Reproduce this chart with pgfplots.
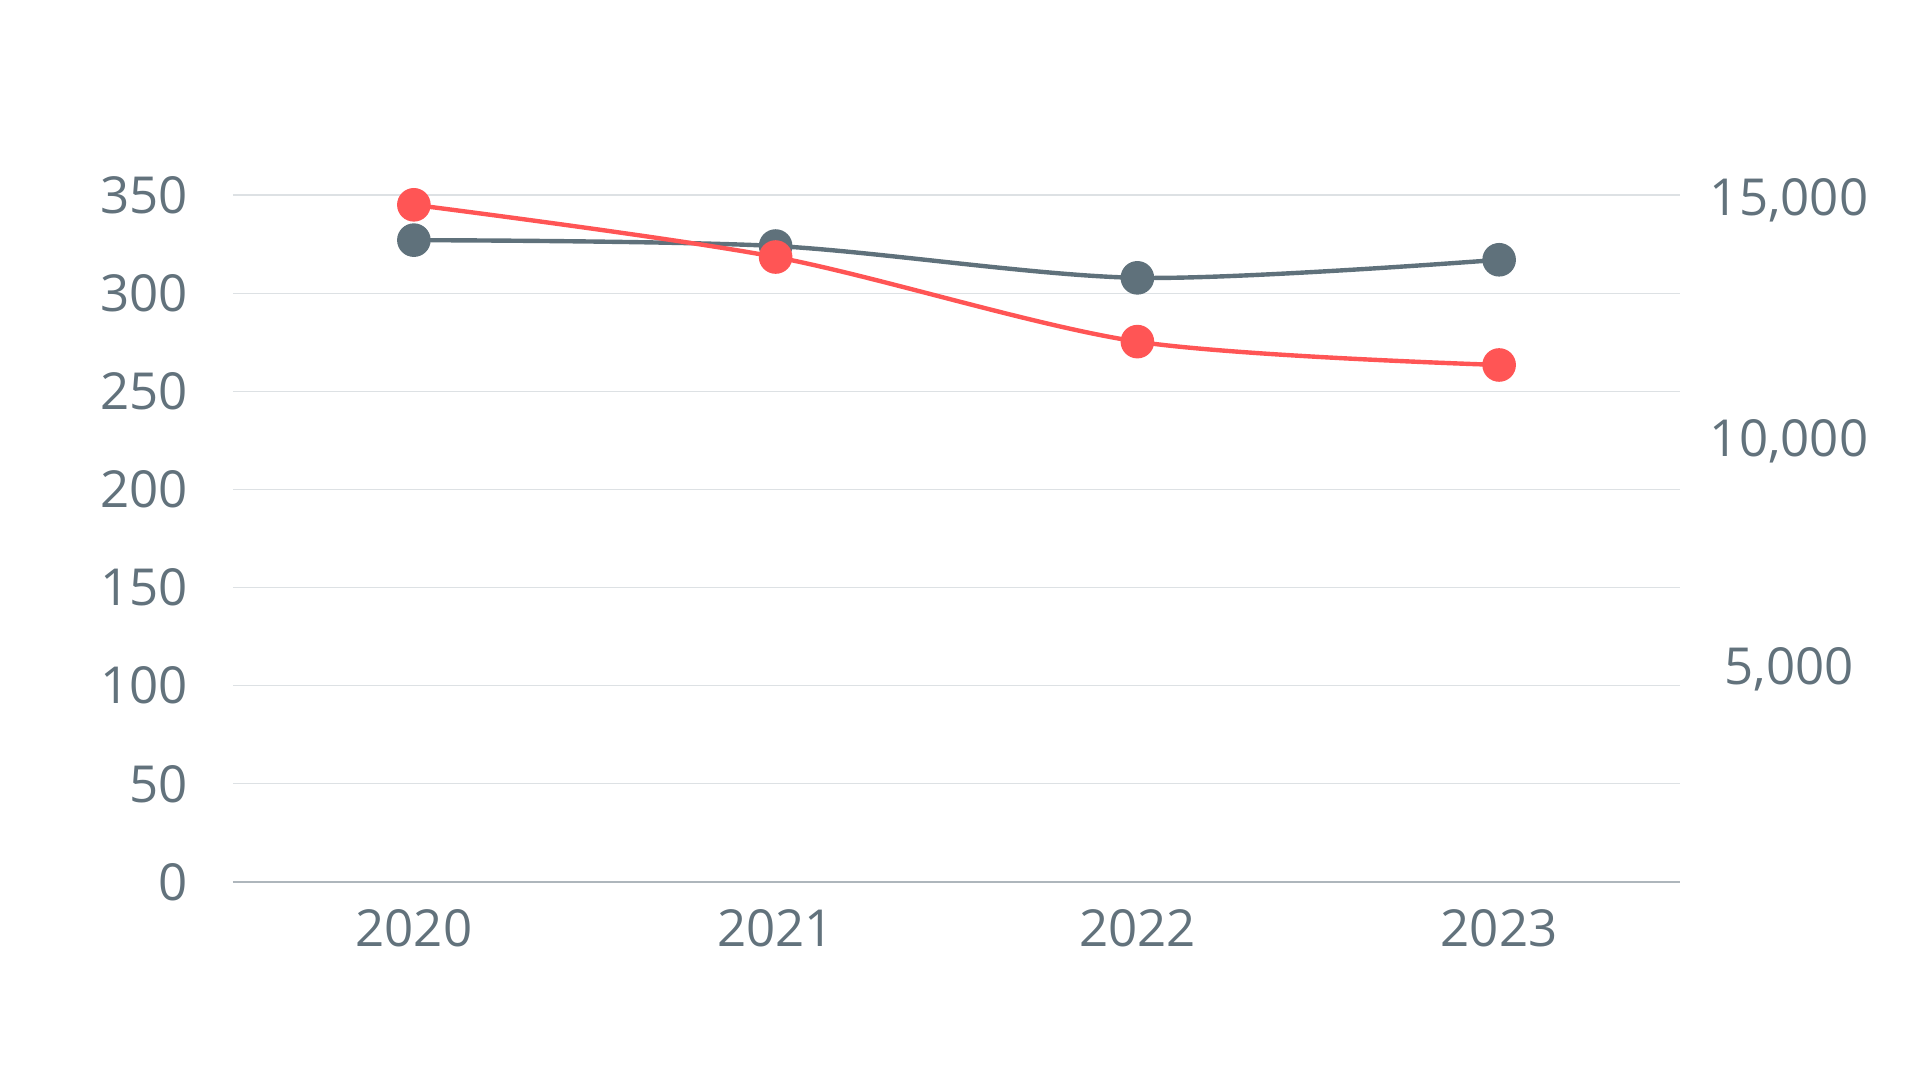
\documentclass[border=0pt]{standalone}
\usepackage{pgfplots}
\pgfplotsset{compat=1.18}
\usepackage{fontspec}
\setmainfont{Open Sans}
\definecolor{gr}{HTML}{5F717B}
\definecolor{rd}{HTML}{FF5555}
\definecolor{gridc}{HTML}{DDE1E4}
\definecolor{basec}{HTML}{AEB6BC}
\definecolor{txt}{HTML}{62727C}
\begin{document}
\begin{tikzpicture}[x=1pt,y=1pt]
\useasboundingbox (-116.5,-99) rectangle (843.5,441);
\begin{axis}[
  at={(0,0)}, anchor=south west,
  width=723.5pt, height=343.5pt, scale only axis,
  xmin=-0.5, xmax=3.5, ymin=0, ymax=350,
  axis line style={draw=none},
  major tick length=0pt,
  xtick={0,1,2,3}, xticklabels={2020,2021,2022,2023},
  ytick={0,50,100,150,200,250,300,350},
  ymajorgrids, grid style={gridc, line width=0.6pt},
  extra y ticks={0}, extra y tick labels={},
  extra y tick style={grid style={basec, line width=1pt}},
  /pgf/number format/assume math mode=true,
  ticklabel style={font=\fontsize{25.5}{25.5}\selectfont, text=txt, inner sep=0pt},
  yticklabel style={anchor=east, xshift=-22.5pt},
  xticklabel style={anchor=center, yshift=-23pt},
  clip=false,
]
\addplot[gr, line width=2.2pt, smooth, tension=0.5, mark=*, mark size=7.3pt, mark options={fill=gr, draw=none}]
  coordinates {(0,327) (1,324) (2,307.8) (3,317)};
\addplot[rd, line width=2.2pt, smooth, tension=0.5, mark=*, mark size=7.3pt, mark options={fill=rd, draw=none}]
  coordinates {(0,345) (1,318.4) (2,275.3) (3,263.4)};
\end{axis}
\begin{axis}[
  at={(0,0)}, anchor=south west,
  width=723.5pt, height=372.94pt, scale only axis,
  xmin=-0.5, xmax=3.5, ymin=0, ymax=380,
  axis line style={draw=none},
  axis y line*=right, axis x line=none,
  major tick length=0pt,
  ytick={108.4,224.3,347.4},
  yticklabels={{5,000},{10,000},{15,000}},
  /pgf/number format/assume math mode=true,
  yticklabel style={font=\fontsize{25.5}{25.5}\selectfont, text=txt, inner sep=0pt, anchor=center, xshift=54.5pt},
]
\end{axis}
\end{tikzpicture}
\end{document}
